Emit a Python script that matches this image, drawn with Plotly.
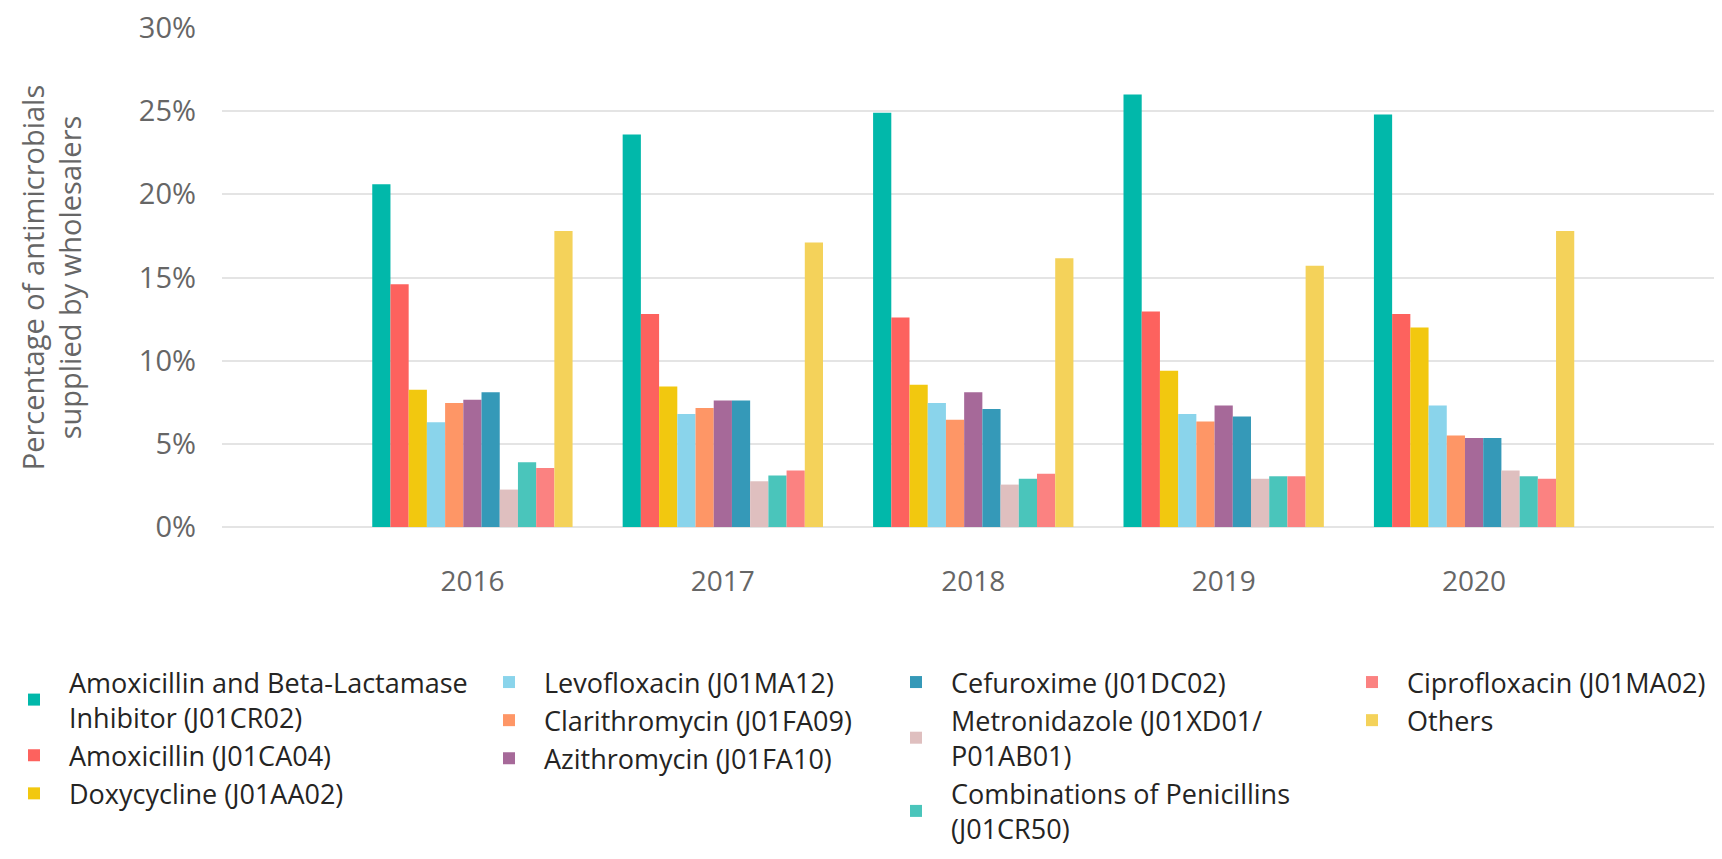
import plotly.graph_objects as go

years = ["2016", "2017", "2018", "2019", "2020"]

series_names = [
    "Amoxicillin and Beta-Lactamase<br>Inhibitor (J01CR02)",
    "Amoxicillin (J01CA04)",
    "Doxycycline (J01AA02)",
    "Levofloxacin (J01MA12)",
    "Clarithromycin (J01FA09)",
    "Azithromycin (J01FA10)",
    "Cefuroxime (J01DC02)",
    "Metronidazole (J01XD01/<br>P01AB01)",
    "Combinations of Penicillins<br>(J01CR50)",
    "Ciprofloxacin (J01MA02)",
    "Others",
]

amox_bli = [20.6, 23.6, 24.9, 26.0, 24.8]
amoxicillin = [14.6, 12.8, 12.6, 12.95, 12.8]
doxycycline = [8.25, 8.45, 8.55, 9.4, 12.0]
levofloxacin = [6.3, 6.8, 7.45, 6.8, 7.3]
clarithromycin = [7.45, 7.15, 6.45, 6.35, 5.5]
azithromycin = [7.65, 7.6, 8.1, 7.3, 5.35]
cefuroxime = [8.1, 7.6, 7.1, 6.65, 5.35]
metronidazole = [2.25, 2.75, 2.55, 2.9, 3.4]
comb_penicillins = [3.9, 3.1, 2.9, 3.05, 3.05]
ciprofloxacin = [3.55, 3.4, 3.2, 3.05, 2.9]
others = [17.8, 17.1, 16.15, 15.7, 17.8]

series_values = [amox_bli, amoxicillin, doxycycline, levofloxacin, clarithromycin,
                 azithromycin, cefuroxime, metronidazole, comb_penicillins,
                 ciprofloxacin, others]

colors = ["#01B8AA", "#FD625E", "#F2C80F", "#8AD4EB", "#FE9666", "#A66999",
          "#3599B8", "#DFBFBF", "#4AC5BB", "#FB8281", "#F4D25A"]

legend_ids = ["legend", "legend", "legend",
              "legend2", "legend2", "legend2",
              "legend3", "legend3", "legend3",
              "legend4", "legend4"]

y_ticks = [0, 5, 10, 15, 20, 25, 30]
y_tick_labels = [f"{v}%" for v in y_ticks]

FONT = "Open Sans, Noto Sans, sans-serif"

fig = go.Figure()
for name, vals, col, lg in zip(series_names, series_values, colors, legend_ids):
    fig.add_trace(go.Bar(
        x=years, y=vals, name=name,
        marker=dict(color=col, line=dict(width=0)),
        legend=lg,
        hovertemplate="%{x}: %{y:.1f}%<extra></extra>",
    ))

# the page body keeps its default 8px margin, so the figure is 8px smaller
W, H = 1714, 851
L, R, T, B = 214, 0, 20, 332
plot_w = W - L - R

def px_to_paper_x(px):
    return (px - L) / plot_w

def py_to_paper_y(py):
    return (H - B - py) / (H - B - T)

leg_common = dict(
    orientation="v", xanchor="left", yanchor="top",
    font=dict(family=FONT, size=27, color="#252423"),
    bgcolor="rgba(0,0,0,0)", borderwidth=0,
    itemwidth=60, traceorder="normal", itemclick=False, itemdoubleclick=False,
)
leg_y = py_to_paper_y(650)

fig.update_layout(
    width=W, height=H,
    margin=dict(l=L, r=R, t=T, b=B, autoexpand=False),
    paper_bgcolor="white", plot_bgcolor="white",
    barmode="group", bargap=0.2, bargroupgap=0,
    font=dict(family=FONT, color="#666666"),
    xaxis=dict(
        type="category", range=[-1, 4.99],
        showgrid=False, showline=False, zeroline=False,
        tickfont=dict(family=FONT, size=28, color="#666666"),
        ticks="", ticklabelstandoff=35, ticklabeloverflow="allow",
    ),
    yaxis=dict(
        range=[0, 30], tickmode="array", tickvals=y_ticks, ticktext=y_tick_labels,
        showgrid=True, gridcolor="#E4E4E4", gridwidth=2,
        zeroline=True, zerolinecolor="#E4E4E4", zerolinewidth=2,
        showline=False, ticks="", ticklabelstandoff=25, ticklabeloverflow="allow",
        tickfont=dict(family=FONT, size=29, color="#666666"),
        title=dict(text="Percentage of antimicrobials<br>supplied by wholesalers",
                   font=dict(family=FONT, size=29, color="#666666"),
                   standoff=48),
    ),
    legend=dict(x=px_to_paper_x(-9), y=leg_y, **leg_common),
    legend2=dict(x=px_to_paper_x(466), y=leg_y, **leg_common),
    legend3=dict(x=px_to_paper_x(873), y=leg_y, **leg_common),
    legend4=dict(x=px_to_paper_x(1329), y=leg_y, **leg_common),
    showlegend=True,
)

fig.write_html("out.html")
